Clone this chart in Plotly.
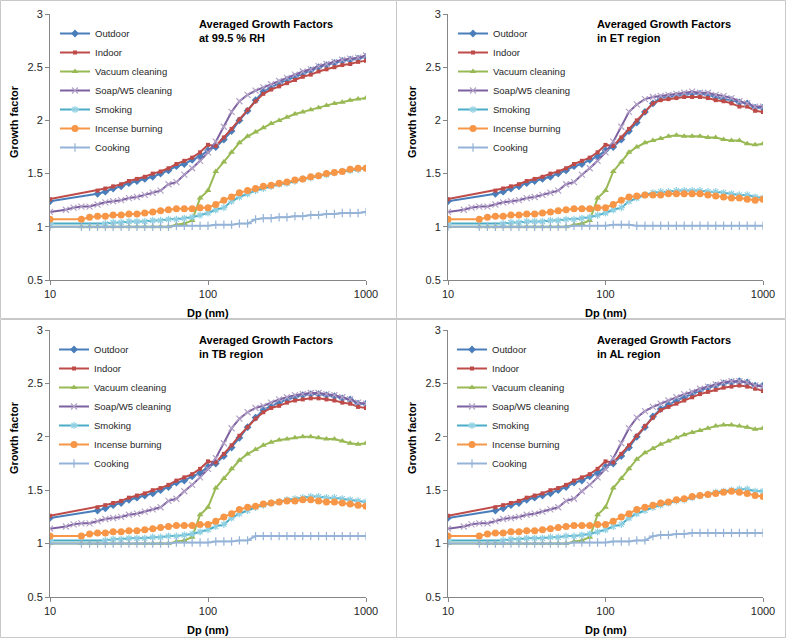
import plotly.graph_objects as go

W, H = 787, 639

# ---------------- data ----------------
series_names = ["Outdoor", "Indoor", "Vacuum cleaning", "Soap/W5 cleaning",
                "Smoking", "Incense burning", "Cooking"]

dp_low = [10, 11.2, 12.6, 14.1, 15.8, 17.8, 20.0, 22.4, 25.1, 28.2, 31.6, 35.5,
          39.8, 44.7, 50.1, 56.2, 63.1, 70.8, 79.4, 89.1, 100, 112, 126, 141]
dp_high = [158, 178, 200, 224, 251, 282, 316, 355, 398, 447, 501, 562, 631,
           708, 794, 891, 1000]

# growth factors below ~150 nm (same in all four panels)
low_outdoor = [1.24, None, None, None, None, None, 1.31, 1.33, 1.36, 1.38, 1.41, 1.43,
               1.45, 1.47, 1.50, 1.53, 1.57, 1.59, 1.63, 1.66, 1.72, 1.75, 1.82, 1.90]
low_indoor = [1.26, None, None, None, None, None, 1.34, 1.36, 1.38, 1.40, 1.43, 1.45,
              1.47, 1.50, 1.52, 1.55, 1.59, 1.62, 1.65, 1.70, 1.77, 1.76, 1.84, 1.92]
low_vacuum = [1.00, None, None, None, 1.00, 1.00, 1.00, 1.00, 1.00, 1.00, 1.00, 1.00,
              1.00, 1.00, 1.00, 1.00, 1.02, 1.03, 1.06, 1.27, 1.34, 1.52, 1.61, 1.70]
low_soap = [1.14, None, 1.16, 1.18, 1.19, 1.19, 1.21, 1.23, 1.24, 1.25, 1.27, 1.28,
            1.30, 1.32, 1.34, 1.40, 1.42, 1.49, 1.55, 1.62, 1.70, 1.80, 1.94, 2.08]
low_smoking = [1.03, None, None, None, None, None, None, 1.03, 1.04, 1.04, 1.05, 1.05,
               1.05, 1.06, 1.06, 1.07, 1.07, 1.08, 1.09, 1.11, 1.13, 1.16, 1.18, 1.24]
low_incense = [1.07, None, None, None, 1.07, 1.09, 1.10, 1.10, 1.11, 1.11, 1.12, 1.12,
               1.13, 1.14, 1.15, 1.16, 1.17, 1.17, 1.17, 1.18, 1.18, 1.21, 1.25, 1.28]
low_cooking = [1.00, None, None, None, 1.00, 1.00, 1.00, 1.00, 1.00, 1.00, 1.00, 1.00,
               1.00, 1.00, 1.00, 1.00, 1.01, 1.01, 1.01, 1.01, 1.01, 1.02, 1.02, 1.02]

# at 99.5 % RH
rh_outdoor = [2.00, 2.09, 2.19, 2.27, 2.31, 2.35, 2.38, 2.41, 2.44, 2.47, 2.50, 2.52, 2.54, 2.56, 2.57, 2.58, 2.60]
rh_indoor = [2.01, 2.10, 2.18, 2.25, 2.29, 2.32, 2.35, 2.38, 2.41, 2.43, 2.46, 2.48, 2.50, 2.52, 2.53, 2.55, 2.56]
rh_vacuum = [1.79, 1.85, 1.89, 1.93, 1.97, 2.00, 2.03, 2.06, 2.08, 2.10, 2.12, 2.14, 2.16, 2.17, 2.19, 2.20, 2.21]
rh_soap = [2.18, 2.24, 2.28, 2.31, 2.34, 2.37, 2.40, 2.43, 2.46, 2.48, 2.51, 2.53, 2.55, 2.57, 2.58, 2.59, 2.61]
rh_smoking = [1.28, 1.31, 1.34, 1.36, 1.38, 1.40, 1.41, 1.43, 1.45, 1.46, 1.48, 1.49, 1.51, 1.52, 1.53, 1.54, 1.55]
rh_incense = [1.32, 1.34, 1.36, 1.38, 1.39, 1.41, 1.42, 1.44, 1.45, 1.47, 1.48, 1.50, 1.51, 1.52, 1.54, 1.55, 1.55]
rh_cooking = [1.03, 1.03, 1.07, 1.08, 1.08, 1.09, 1.09, 1.10, 1.10, 1.11, 1.11, 1.12, 1.12, 1.13, 1.13, 1.13, 1.14]

# ET region
et_outdoor = [1.98, 2.08, 2.16, 2.21, 2.22, 2.23, 2.24, 2.25, 2.25, 2.24, 2.22, 2.20, 2.19, 2.17, 2.16, 2.12, 2.12]
et_indoor = [2.00, 2.08, 2.16, 2.19, 2.20, 2.21, 2.22, 2.22, 2.22, 2.21, 2.19, 2.18, 2.16, 2.13, 2.13, 2.09, 2.08]
et_vacuum = [1.75, 1.79, 1.81, 1.83, 1.85, 1.86, 1.85, 1.85, 1.85, 1.84, 1.84, 1.82, 1.81, 1.81, 1.78, 1.77, 1.78]
et_soap = [2.15, 2.20, 2.22, 2.23, 2.24, 2.25, 2.26, 2.27, 2.26, 2.26, 2.24, 2.23, 2.21, 2.18, 2.16, 2.13, 2.13]
et_smoking = [1.27, 1.30, 1.32, 1.33, 1.33, 1.34, 1.34, 1.34, 1.34, 1.33, 1.33, 1.32, 1.31, 1.30, 1.30, 1.28, 1.27]
et_incense = [1.29, 1.30, 1.30, 1.30, 1.31, 1.31, 1.31, 1.31, 1.31, 1.30, 1.29, 1.28, 1.27, 1.27, 1.26, 1.25, 1.26]
et_cooking = [1.01, 1.01, 1.01, 1.01, 1.01, 1.01, 1.01, 1.01, 1.01, 1.01, 1.01, 1.01, 1.01, 1.01, 1.01, 1.01, 1.01]

# TB region
tb_outdoor = [1.99, 2.09, 2.18, 2.25, 2.29, 2.32, 2.35, 2.37, 2.39, 2.40, 2.40, 2.39, 2.38, 2.36, 2.35, 2.31, 2.31]
tb_indoor = [2.01, 2.09, 2.17, 2.23, 2.27, 2.29, 2.32, 2.34, 2.35, 2.36, 2.36, 2.35, 2.34, 2.32, 2.31, 2.28, 2.27]
tb_vacuum = [1.78, 1.84, 1.88, 1.92, 1.95, 1.97, 1.98, 1.99, 2.00, 2.00, 1.99, 1.98, 1.98, 1.96, 1.94, 1.93, 1.94]
tb_soap = [2.17, 2.23, 2.27, 2.29, 2.32, 2.35, 2.37, 2.39, 2.40, 2.41, 2.41, 2.40, 2.39, 2.37, 2.35, 2.32, 2.31]
tb_smoking = [1.28, 1.31, 1.34, 1.36, 1.38, 1.39, 1.41, 1.42, 1.43, 1.44, 1.44, 1.43, 1.43, 1.42, 1.41, 1.40, 1.39]
tb_incense = [1.32, 1.34, 1.35, 1.37, 1.38, 1.39, 1.40, 1.40, 1.41, 1.41, 1.40, 1.39, 1.39, 1.38, 1.37, 1.36, 1.35]
tb_cooking = [1.03, 1.03, 1.07, 1.07, 1.07, 1.07, 1.07, 1.07, 1.07, 1.07, 1.07, 1.07, 1.07, 1.07, 1.07, 1.07, 1.07]

# AL region
al_outdoor = [2.00, 2.09, 2.19, 2.26, 2.30, 2.34, 2.37, 2.40, 2.43, 2.46, 2.48, 2.50, 2.51, 2.52, 2.51, 2.48, 2.48]
al_indoor = [2.01, 2.10, 2.18, 2.25, 2.28, 2.31, 2.34, 2.37, 2.40, 2.42, 2.44, 2.46, 2.47, 2.48, 2.47, 2.45, 2.43]
al_vacuum = [1.79, 1.85, 1.89, 1.93, 1.96, 1.99, 2.02, 2.04, 2.06, 2.08, 2.10, 2.11, 2.11, 2.10, 2.09, 2.07, 2.08]
al_soap = [2.18, 2.24, 2.28, 2.31, 2.34, 2.37, 2.40, 2.42, 2.45, 2.47, 2.49, 2.51, 2.52, 2.52, 2.51, 2.48, 2.47]
al_smoking = [1.28, 1.31, 1.34, 1.36, 1.38, 1.40, 1.41, 1.43, 1.45, 1.46, 1.48, 1.49, 1.50, 1.51, 1.51, 1.49, 1.49]
al_incense = [1.32, 1.34, 1.36, 1.38, 1.39, 1.41, 1.42, 1.44, 1.45, 1.46, 1.47, 1.48, 1.49, 1.48, 1.47, 1.45, 1.44]
al_cooking = [1.03, 1.03, 1.07, 1.08, 1.08, 1.09, 1.09, 1.10, 1.10, 1.10, 1.10, 1.10, 1.10, 1.10, 1.10, 1.10, 1.10]

panel_titles = ["Averaged Growth Factors<br>at 99.5 % RH",
                "Averaged Growth Factors<br>in ET region",
                "Averaged Growth Factors<br>in TB region",
                "Averaged Growth Factors<br>in AL region"]

low_series = [low_outdoor, low_indoor, low_vacuum, low_soap, low_smoking, low_incense, low_cooking]
panel_high = [
    [rh_outdoor, rh_indoor, rh_vacuum, rh_soap, rh_smoking, rh_incense, rh_cooking],
    [et_outdoor, et_indoor, et_vacuum, et_soap, et_smoking, et_incense, et_cooking],
    [tb_outdoor, tb_indoor, tb_vacuum, tb_soap, tb_smoking, tb_incense, tb_cooking],
    [al_outdoor, al_indoor, al_vacuum, al_soap, al_smoking, al_incense, al_cooking],
]

x_ticks = [10, 100, 1000]
x_ticktext = ["10", "100", "1000"]

# ---------------- styles ----------------
FONT = "Arial, Liberation Sans, sans-serif"
styles = [
    dict(line=dict(color="#4A7EBB", width=2), marker=dict(symbol="diamond", size=6, color="#4A7EBB")),
    dict(line=dict(color="#BE4B48", width=2), marker=dict(symbol="square", size=4, color="#BE4B48")),
    dict(line=dict(color="#98B954", width=2), marker=dict(symbol="triangle-up", size=6, color="#98B954")),
    dict(line=dict(color="#7D60A0", width=2), marker=dict(symbol="x-thin", size=6, color="#B3A2C7",
                                                          line=dict(width=1.2, color="#B3A2C7"))),
    dict(line=dict(color="#4BACC6", width=2), marker=dict(symbol="asterisk", size=6, color="#8FD0E2",
                                                          line=dict(width=1.2, color="#8FD0E2"))),
    dict(line=dict(color="#F79646", width=2), marker=dict(symbol="circle", size=7, color="#F79646")),
    dict(line=dict(color="#95B3D7", width=2), marker=dict(symbol="cross-thin", size=6, color="#95B3D7",
                                                          line=dict(width=1.2, color="#95B3D7"))),
]

# panel geometry in pixels: (left, right, top, bottom) of plot area
plot_px = [(50, 366, 14, 280), (448, 763, 14, 280),
           (50, 366, 330, 597), (448, 763, 330, 597)]
panel_px = [(0.5, 396.5, 0.5, 318.5), (396.5, 785.5, 0.5, 318.5),
            (0.5, 396.5, 319.5, 637.5), (396.5, 785.5, 319.5, 637.5)]
legend_px = [(55, 19), (453, 19), (54, 335), (452, 335)]
title_px = [(197, 16), (595, 16), (197, 332), (595, 332)]


def px(x):
    return x / W


def py(y):
    return 1 - y / H


fig = go.Figure()
dp_all = dp_low + dp_high

layout = dict(width=W, height=H, margin=dict(l=0, r=0, t=0, b=0, autoexpand=False),
              paper_bgcolor="white", plot_bgcolor="white",
              font=dict(family=FONT, size=11, color="#262626"),
              showlegend=True)
annotations = []
shapes = []

for p in range(4):
    sfx = "" if p == 0 else str(p + 1)
    xa, ya = "x" + sfx, "y" + sfx
    leg = "legend" + sfx
    for s in range(7):
        ys = low_series[s] + panel_high[p][s]
        fig.add_trace(go.Scatter(x=dp_all, y=ys, name=series_names[s], mode="lines+markers",
                                 connectgaps=True, xaxis=xa, yaxis=ya, legend=leg,
                                 **styles[s]))
    l, r, t, b = plot_px[p]
    layout["xaxis" + sfx] = dict(type="log", range=[1, 3], domain=[px(l), px(r)],
                                 anchor=ya, tickvals=x_ticks, ticktext=x_ticktext,
                                 showline=True, linecolor="#868686", linewidth=1,
                                 ticks="outside", ticklen=4, tickcolor="#868686",
                                 showgrid=False, zeroline=False, automargin=False,
                                 tickfont=dict(size=11, color="#262626"))
    layout["yaxis" + sfx] = dict(range=[0.5, 3], dtick=0.5, domain=[py(b), py(t)],
                                 anchor=xa, showline=True, linecolor="#868686", linewidth=1,
                                 ticks="outside", ticklen=4, tickcolor="#868686",
                                 showgrid=False, zeroline=False, automargin=False,
                                 tickfont=dict(size=11, color="#262626"))
    lx, ly = legend_px[p]
    layout[leg] = dict(x=px(lx), y=py(ly), xanchor="left", yanchor="top",
                       bgcolor="rgba(0,0,0,0)", font=dict(size=9.5, color="#262626"),
                       itemclick=False)
    tx, ty = title_px[p]
    annotations.append(dict(text="<b>" + panel_titles[p].replace("<br>", "</b><br><b>") + "</b>",
                            x=px(tx), y=py(ty), xref="paper", yref="paper",
                            xanchor="left", yanchor="top", align="left", showarrow=False,
                            font=dict(size=11, color="black")))
    # axis titles
    annotations.append(dict(text="<b>Dp (nm)</b>", x=px((l + r) / 2), y=py(b + 33),
                            xref="paper", yref="paper", xanchor="center", yanchor="middle",
                            showarrow=False, font=dict(size=11, color="black")))
    annotations.append(dict(text="<b>Growth factor</b>", x=px(l - 36), y=py(t + 108),
                            xref="paper", yref="paper", xanchor="center", yanchor="middle",
                            textangle=-90, showarrow=False, font=dict(size=11, color="black")))
    x0, x1, y0, y1 = panel_px[p]
    shapes.append(dict(type="rect", xref="paper", yref="paper",
                       x0=px(x0), x1=px(x1), y0=py(y1), y1=py(y0),
                       line=dict(color="#C8C8C8", width=1), fillcolor="rgba(0,0,0,0)",
                       layer="below"))

layout["annotations"] = annotations
layout["shapes"] = shapes
fig.update_layout(**layout)
fig.write_html("out.html", config={"displayModeBar": False},
               post_script="document.body.style.margin='0px';")
